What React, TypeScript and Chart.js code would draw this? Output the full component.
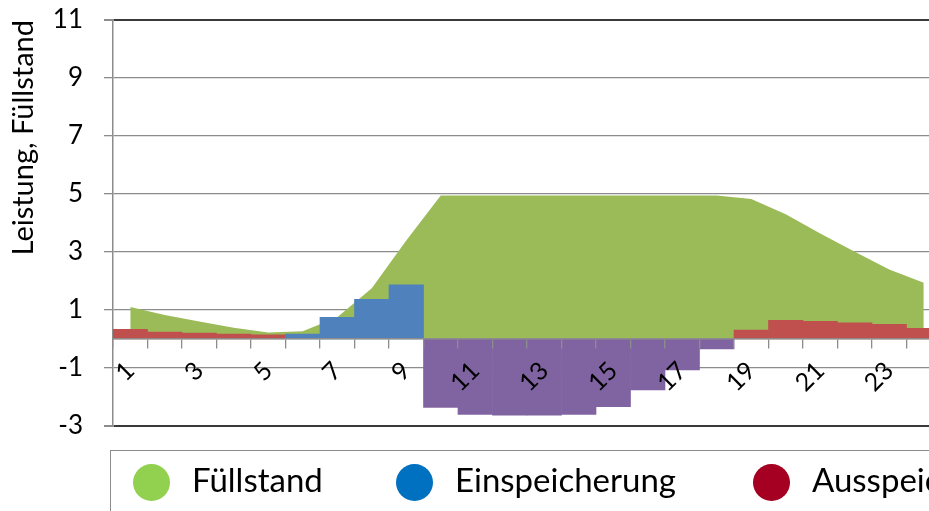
import { useEffect, useRef } from "react";
import { Chart, registerables } from "chart.js";

Chart.register(...registerables);

// Stunden des Tages
const hours = [
  "1", "2", "3", "4", "5", "6", "7", "8", "9", "10", "11", "12",
  "13", "14", "15", "16", "17", "18", "19", "20", "21", "22", "23", "24",
];

// Füllstand des Speichers (Fläche)
const fuellstand = [
  1.1, 0.83, 0.6, 0.39, 0.22, 0.27, 0.75, 1.75, 3.4, 4.95, 4.95, 4.95,
  4.95, 4.95, 4.95, 4.95, 4.95, 4.95, 4.83, 4.3, 3.64, 3.01, 2.4, 1.94,
];

// Einspeicherung (Leistung, positiv)
const einspeicherung = [
  null, null, null, null, null, 0.17, 0.75, 1.37, 1.87, null, null, null,
  null, null, null, null, null, null, null, null, null, null, null, null,
];

// Ausspeicherung (Leistung, positiv)
const ausspeicherung = [
  0.33, 0.24, 0.2, 0.17, 0.14, null, null, null, null, null, null, null,
  null, null, null, null, null, null, 0.31, 0.64, 0.61, 0.56, 0.51, 0.37,
];

// Ladeleistung aus dem Netz (negativ)
const ladung = [
  null, null, null, null, null, null, null, null, null, -2.36, -2.6, -2.63,
  -2.63, -2.6, -2.33, -1.76, -1.07, -0.34, null, null, null, null, null, null,
];

const yTicks = { min: -3, max: 11, step: 2 };

const GREEN = "#9BBB59";
const BLUE = "#4F81BD";
const RED = "#C0504D";
const PURPLE = "#8064A2";
const GRID = "#8C8C8C";
const FRAME = "#3A3A3A";
const FONT = "Lato, 'Liberation Sans', sans-serif";

const legendItems = [
  { label: "Füllstand", color: "#92D050", left: 133 },
  { label: "Einspeicherung", color: "#0070C0", left: 396 },
  { label: "Ausspeicherung", color: "#A50021", left: 753 },
];

const barCommon = {
  type: "bar" as const,
  grouped: false,
  barPercentage: 1,
  categoryPercentage: 1,
  borderWidth: 0,
  order: 1,
};

export default function App() {
  const canvasRef = useRef<HTMLCanvasElement>(null);

  useEffect(() => {
    const canvas = canvasRef.current;
    if (!canvas) return;
    const chart = new Chart(canvas, {
      type: "bar",
      data: {
        labels: hours,
        datasets: [
          {
            type: "line",
            label: "Füllstand",
            data: fuellstand,
            backgroundColor: GREEN,
            borderColor: "rgba(0,0,0,0)",
            borderWidth: 0,
            pointRadius: 0,
            tension: 0,
            fill: "origin",
            order: 3,
          },
          { ...barCommon, label: "Einspeicherung", data: einspeicherung, backgroundColor: BLUE },
          { ...barCommon, label: "Ausspeicherung", data: ausspeicherung, backgroundColor: RED },
          { ...barCommon, label: "Ladung", data: ladung, backgroundColor: PURPLE },
        ] as any,
      },
      options: {
        responsive: false,
        animation: false,
        layout: { padding: { top: 20, right: 19, bottom: 85, left: 0 } },
        plugins: {
          legend: { display: false },
          tooltip: { enabled: false },
        },
        scales: {
          x: {
            position: { y: 0 } as any,
            grid: {
              offset: true,
              drawOnChartArea: false,
              drawTicks: true,
              tickLength: 9,
              color: GRID,
              lineWidth: 1.3,
              z: 1,
            },
            border: { color: GRID, width: 1.5, z: 1 },
            ticks: {
              autoSkip: false,
              maxRotation: 45,
              minRotation: 45,
              padding: 8,
              color: "#000",
              font: { family: FONT, size: 25 },
              z: 1,
              callback: (_v: any, i: number) => (i % 2 === 0 ? hours[i] : ""),
            },
          },
          y: {
            min: yTicks.min,
            max: yTicks.max,
            ticks: {
              stepSize: yTicks.step,
              padding: 21,
              color: "#000",
              font: { family: FONT, size: 26 },
            },
            grid: {
              color: (ctx: any) =>
                ctx.tick && (ctx.tick.value === yTicks.max || ctx.tick.value === yTicks.min) ? FRAME : GRID,
              lineWidth: (ctx: any) =>
                ctx.tick && (ctx.tick.value === yTicks.max || ctx.tick.value === yTicks.min) ? 2 : 1.3,
              tickColor: GRID,
              tickLength: 9,
            },
            border: { color: GRID, width: 1.5 },
            title: {
              display: true,
              text: "Leistung, Füllstand",
              align: "end",
              color: "#000",
              font: { family: FONT, size: 29 },
              padding: { top: 6, bottom: 4 },
            },
            afterFit: (scale: any) => {
              // fixed axis width; vertical room comes from the layout padding only
              scale.width = 113;
              scale.paddingTop = 0;
              scale.paddingBottom = 0;
            },
          },
        },
      },
    });
    return () => chart.destroy();
  }, []);

  return (
    <div
      style={{
        position: "absolute",
        left: 0,
        top: 0,
        width: 929,
        height: 511,
        overflow: "hidden",
        background: "#fff",
      }}
    >
      <canvas
        ref={canvasRef}
        width={960}
        height={511}
        style={{ position: "absolute", left: 0, top: 0, width: 960, height: 511 }}
      />
      <div
        style={{
          position: "absolute",
          left: 110,
          top: 450,
          width: 900,
          height: 120,
          border: "1.5px solid #8C8C8C",
          boxSizing: "border-box",
        }}
      />
      {legendItems.map((item) => (
        <div key={item.label}>
          <div
            style={{
              position: "absolute",
              left: item.left,
              top: 464,
              width: 37,
              height: 37,
              borderRadius: "50%",
              background: item.color,
            }}
          />
          <div
            style={{
              position: "absolute",
              left: item.left + 59,
              top: 460,
              fontFamily: FONT,
              fontSize: 33,
              lineHeight: 1.2,
              color: "#000",
              whiteSpace: "nowrap",
            }}
          >
            {item.label}
          </div>
        </div>
      ))}
    </div>
  );
}
